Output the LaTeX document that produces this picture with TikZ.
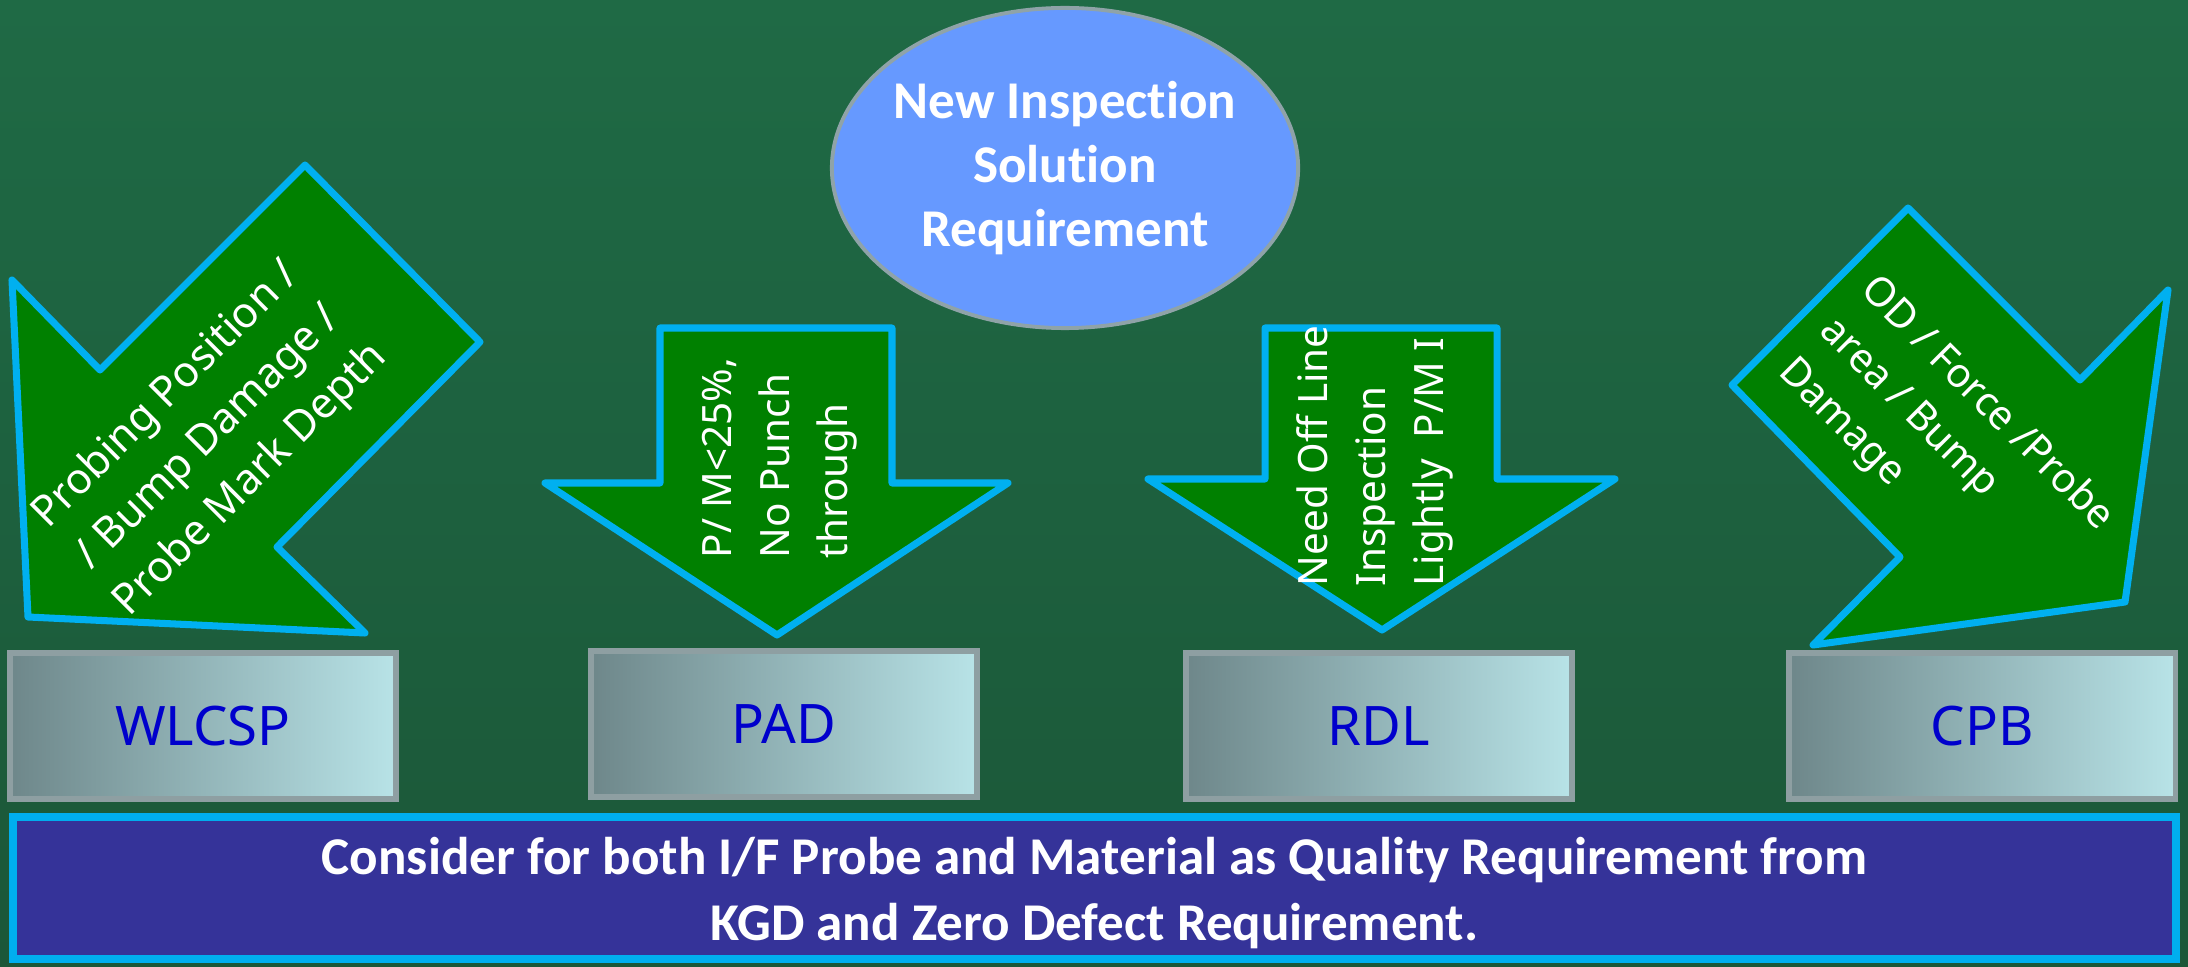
\documentclass[tikz,border=0pt]{standalone}
\usepackage{fontspec}
\setmainfont{Carlito}[Ligatures=NoCommon]
\newfontfamily\arrowfont{Noto Sans}[Ligatures=NoCommon]
\definecolor{bgtop}{HTML}{1F6A45}
\definecolor{bgbot}{HTML}{1B5738}
\definecolor{arrowgreen}{HTML}{008000}
\definecolor{arrowcyan}{HTML}{00B0F0}
\definecolor{ellfill}{HTML}{6699FF}
\definecolor{ellline}{HTML}{8FA3A8}
\definecolor{boxleft}{HTML}{6E878A}
\definecolor{boxright}{HTML}{B8E3E7}
\definecolor{boxline}{HTML}{8E9FA2}
\definecolor{boxtext}{HTML}{0000CC}
\definecolor{notefill}{HTML}{353399}
\definecolor{noteline}{HTML}{00AEEF}
\tikzset{
  arrowshape/.style={fill=arrowgreen, draw=arrowcyan, line width=2pt, line join=round},
  arrowtext/.style={text=white, inner sep=0pt, font=\arrowfont\fontsize{11.5}{16.5}\selectfont},
  catbox/.style={left color=boxleft, right color=boxright, draw=boxline, line width=1.5pt,
    minimum width=3.86cm, minimum height=1.46cm, inner sep=0pt, text=boxtext,
    font=\arrowfont\fontsize{15.5}{18}\selectfont},
  goalell/.style={fill=ellfill, draw=ellline, line width=1.1pt},
  goaltext/.style={inner sep=0pt, text=white, align=center,
    font=\bfseries\fontsize{15.1}{18.2}\selectfont},
  notebox/.style={fill=notefill, draw=noteline, line width=2.3pt,
    minimum width=21.61cm, minimum height=1.42cm, inner sep=0pt, text=white, align=center,
    font=\bfseries\fontsize{15.1}{18.8}\selectfont}
}
\begin{document}
\begin{tikzpicture}[x=0.01cm,y=-0.01cm]
\useasboundingbox (0,0) rectangle (2188,967);
\shade[top color=bgtop,bottom color=bgbot] (0,0) rectangle (2188,967);

% arrows
\draw[arrowshape] (12,280) -- (100,370) -- (305,165) -- (480,342) -- (277,547) -- (365,633) -- (28,617) -- cycle;
\draw[arrowshape] (660,328) -- (892,328) -- (892,483) -- (1008,483) -- (777,635) -- (545,483) -- (660,483) -- cycle;
\draw[arrowshape] (1265,328) -- (1497,328) -- (1497,479) -- (1615,479) -- (1382,630) -- (1148,479) -- (1265,479) -- cycle;
\draw[arrowshape] (1732,385) -- (1908,208) -- (2080,380) -- (2168,290) -- (2125,602) -- (1813,645) -- (1900,557) -- cycle;

% arrow texts
\node[arrowtext, rotate=45, align=center, font=\arrowfont\fontsize{12.1}{17}\selectfont] (tw) at (209,438) {Probing Position /\\/ Bump Damage /\\Probe Mark Depth};
\node[arrowtext, rotate=90, anchor=west, align=left] (tp) at (780,559) {P/ M<25\%,\\No Punch\\through};
\node[arrowtext, rotate=90, anchor=west, align=left] (tr) at (1375,587) {Need Off Line\\Inspection\\Lightly~~P/M I};
\node[arrowtext, rotate=-45, anchor=west, align=left] (tc) at (1825,325) {OD / Force /Probe\\area / Bump\\Damage};

% ellipse
\draw[goalell] (1065,168) ellipse [x radius=2.33cm, y radius=1.6cm];
\node[goaltext] (goal) at (1065,168) {New Inspection\\Solution\\Requirement};

% category boxes
\node[catbox] (wl) at (203,726) {WLCSP};
\node[catbox] (pad) at (784,724) {PAD};
\node[catbox] (rdl) at (1379,726) {RDL};
\node[catbox] (cpb) at (1982,726) {CPB};

% bottom note
\node[notebox] (note) at (1094.5,888) {};
\node[inner sep=0pt, text=white, align=center, font=\bfseries\fontsize{15.1}{18.8}\selectfont] (notetext) at (1094.5,893) {Consider for both I/F Probe and Material as Quality Requirement from\\KGD and Zero Defect Requirement.};
\end{tikzpicture}
\end{document}
